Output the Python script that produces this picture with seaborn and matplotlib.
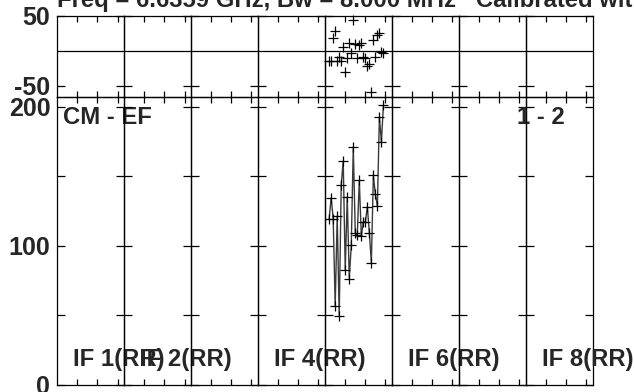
import numpy as np
import pandas as pd
import matplotlib
matplotlib.use("Agg")
import matplotlib.pyplot as plt
import seaborn as sns

# ---- data -------------------------------------------------------------
n_if = 8
data_if = 5                      # IF whose channels carry data
channels = list(range(2, 30))    # channel numbers inside that IF
amplitude = [119.5, 134.5, 119.5, 56.7, 121.3, 49.5, 144.0, 160.8, 82.6, 135.0,
             76.4, 100.3, 171.2, 108.9, 107.7, 147.2, 107.0, 117.0, 117.0, 128.0,
             109.4, 87.9, 150.6, 137.0, 128.5, 192.7, 174.5, 200.9]
phase = [-14.3, -15.2, 17.6, 28.6, -14.3, -8.6, -14.3, 4.8, -31.0, -10.5,
         10.5, -3.8, 43.8, 9.5, -10.5, 8.6, 10.5, -9.5, -10.5, -21.4,
         -19.0, -59.5, 15.2, -9.5, 22.9, 24.8, -2.4, -3.8]
if_label_idx = [1, 2, 4, 6, 8]
if_labels = ["IF 1(RR)", "IF 2(RR)", "IF 4(RR)", "IF 6(RR)", "IF 8(RR)"]
phase_ticks = [-50, 50]
amp_ticks = [0, 50, 100, 150, 200]
amp_ticklabels = ["0", "", "100", "", "200"]
chan_ticks = [10, 20, 30]
title = "Freq = 6.6359 GHz, Bw = 8.000 MHz   Calibrated with CL 1"
baseline_label = "CM - EF"
corr_label = "1 - 2"

df = pd.DataFrame({"chan": channels, "amp": amplitude, "phase": phase})

# ---- style ------------------------------------------------------------
sns.set_theme(style="white")
plt.rcParams["font.family"] = ["Liberation Sans", "DejaVu Sans"]
plt.rcParams["font.weight"] = "bold"

W, H = 634, 392
fig = plt.figure(figsize=(W / 100, H / 100), dpi=100)
left, right = 57.3 / W, 593.0 / W
top, bottom = 1 - 15.7 / H, 1 - 385.0 / H
gs = fig.add_gridspec(2, n_if, height_ratios=[81.6, 287.7], wspace=0, hspace=0,
                      left=left, right=right, top=top, bottom=bottom)

fs = 17.2
for j in range(n_if):
    axp = fig.add_subplot(gs[0, j])
    axa = fig.add_subplot(gs[1, j])
    for ax in (axp, axa):
        ax.set_facecolor("none")
        ax.set_xlim(0, 100 / 3)
        ax.set_xticks(chan_ticks)
        ax.tick_params(axis="x", direction="in", length=4, width=0.9, top=True,
                       bottom=True, labelbottom=False, color="black")
        ax.tick_params(axis="y", direction="in", length=6, width=0.9, left=True,
                       right=True, labelleft=(j == 0), color="black",
                       labelsize=18, pad=5)
        for s in ax.spines.values():
            s.set_color("black")
            s.set_linewidth(0.9)
    axp.set_ylim(-66.6, 50)
    axp.set_yticks(phase_ticks)
    axp.set_yticklabels([str(t) for t in phase_ticks])
    axp.axhline(0, color="black", lw=0.9)
    axa.set_ylim(0, 206.7)
    axa.set_yticks(amp_ticks)
    axa.set_yticklabels(amp_ticklabels)
    for lab in axp.get_yticklabels() + axa.get_yticklabels():
        lab.set_fontweight("bold")

    if j + 1 == data_if:
        sns.scatterplot(data=df, x="chan", y="phase", ax=axp, marker="+",
                        color="black", s=50, linewidth=0.9, legend=False,
                        clip_on=False)
        sns.lineplot(data=df, x="chan", y="amp", ax=axa, color="#3a3a3a",
                     lw=1.0, marker="+", markersize=7, markeredgecolor="black",
                     markeredgewidth=0.9, legend=False, estimator=None,
                     sort=False)
        axp.set_xlim(0, 100 / 3); axa.set_xlim(0, 100 / 3)
    for ax in (axp, axa):
        ax.set_xlabel("")
        ax.set_ylabel("")

    if (j + 1) in if_label_idx:
        k = if_label_idx.index(j + 1)
        axa.text(0.235, 0.066, if_labels[k], transform=axa.transAxes,
                 fontsize=fs, fontweight="bold", ha="left", va="baseline",
                 zorder=5, clip_on=False)
    if j == 0:
        axa.text(5.7 / 67, 1 - 26.7 / 287.7, baseline_label,
                 transform=axa.transAxes, fontsize=fs, fontweight="bold",
                 ha="left", va="baseline", clip_on=False)
    if j == 6:
        axa.text((517 - 459.3) / 67, 1 - 26.7 / 287.7, corr_label,
                 transform=axa.transAxes, fontsize=fs, fontweight="bold",
                 ha="left", va="baseline", zorder=5, clip_on=False)

fig.text(57 / W, 1 - 7 / H, title, fontsize=fs, fontweight="bold",
         ha="left", va="baseline")

fig.savefig("out.png", dpi=100)
